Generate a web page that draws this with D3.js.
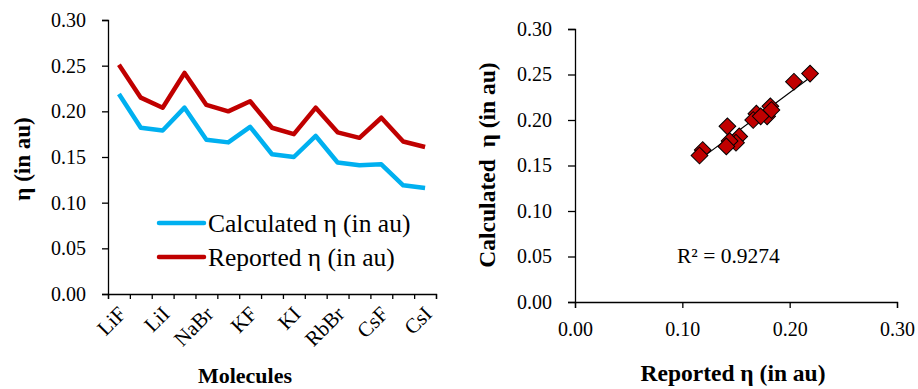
<!DOCTYPE html>
<html>
<head>
<meta charset="utf-8">
<script src="https://cdn.jsdelivr.net/npm/d3@7"></script>
<style>
  body { margin: 0; background: #fff; }
  svg text { font-family: "Liberation Serif", "DejaVu Serif", serif; fill: #000; }
</style>
</head>
<body>
<svg id="chart" width="918" height="389"></svg>
<script>
var molecules = ['LiF', 'LiBr', 'LiI', 'NaF', 'NaBr', 'NaI', 'KF', 'KBr', 'KI', 'RbF', 'RbBr', 'RbI', 'CsF', 'CsBr', 'CsI'];
var calculated = [0.219, 0.182, 0.179, 0.204, 0.169, 0.166, 0.183, 0.153, 0.150, 0.173, 0.144, 0.141, 0.142, 0.119, 0.116];
var reported = [0.251, 0.215, 0.204, 0.242, 0.207, 0.200, 0.211, 0.182, 0.175, 0.204, 0.177, 0.171, 0.193, 0.167, 0.161];
var yTicks = [0, 0.05, 0.10, 0.15, 0.20, 0.25, 0.30];
var xTicksScatter = [0, 0.10, 0.20, 0.30];

var blue = '#00B0F0', red = '#C00000';
var serif = '"Liberation Serif", "DejaVu Serif", serif';
var fmt = d3.format('.2f');
var svg = d3.select('#chart');

// ---------- left: line chart ----------
var L = {left: 108, right: 436, top: 20, bottom: 294};

var x = d3.scaleBand().domain(molecules).range([L.left, L.right]);
var xb = d3.scaleLinear().domain([0, molecules.length]).range([L.left, L.right]);
var y = d3.scaleLinear().domain([0, 0.30]).range([L.bottom, L.top]);

svg.append('g')
    .attr('transform', 'translate(' + L.left + ',0)')
    .call(d3.axisLeft(y).tickValues(yTicks).tickFormat(fmt).tickSizeOuter(0).tickSize(6).tickPadding(16));

svg.append('g')
    .attr('transform', 'translate(0,' + L.bottom + ')')
    .call(d3.axisBottom(xb).tickValues(d3.range(molecules.length + 1)).tickFormat('').tickSizeOuter(0).tickSize(5));

// every other category label
svg.append('g').selectAll('text')
    .data(molecules.filter(function (d, i) { return i % 2 === 0; }))
    .enter().append('text')
    .attr('transform', function (d) {
        return 'translate(' + (x(d) + x.bandwidth() / 2 + 3) + ',' + (L.bottom + 16) + ') rotate(-45)';
    })
    .attr('text-anchor', 'end')
    .attr('dy', '0.35em')
    .style('font-size', '21px')
    .text(function (d) { return d; });

var line = d3.line()
    .x(function (d, i) { return x(molecules[i]) + x.bandwidth() / 2; })
    .y(function (d) { return y(d); });

svg.append('path').datum(calculated)
    .attr('d', line).attr('fill', 'none').attr('stroke', blue)
    .attr('stroke-width', 4.5).attr('stroke-linejoin', 'round');
svg.append('path').datum(reported)
    .attr('d', line).attr('fill', 'none').attr('stroke', red)
    .attr('stroke-width', 4.5).attr('stroke-linejoin', 'round');

// legend
var legend = [['Calculated η (in au)', blue], ['Reported η (in au)', red]];
legend.forEach(function (d, i) {
    var ly = 223 + i * 34;
    svg.append('line').attr('x1', 159).attr('x2', 204).attr('y1', ly).attr('y2', ly)
        .attr('stroke', d[1]).attr('stroke-width', 4.5).attr('stroke-linecap', 'round');
    svg.append('text').attr('x', 208).attr('y', ly + 9).style('font-size', '25.5px').text(d[0]);
});

svg.append('text')
    .attr('transform', 'translate(30,' + ((L.top + L.bottom) / 2 + 2) + ') rotate(-90)')
    .attr('text-anchor', 'middle')
    .style('font-size', '23px').style('font-weight', 'bold')
    .text('η (in au)');

svg.append('text')
    .attr('x', 245).attr('y', 383)
    .attr('text-anchor', 'middle')
    .style('font-size', '22px').style('font-weight', 'bold')
    .text('Molecules');

// ---------- right: scatter ----------
var S = {left: 575, right: 897, top: 29, bottom: 302};
var sx = d3.scaleLinear().domain([0, 0.30]).range([S.left, S.right]);
var sy = d3.scaleLinear().domain([0, 0.30]).range([S.bottom, S.top]);

svg.append('g')
    .attr('transform', 'translate(' + S.left + ',0)')
    .call(d3.axisLeft(sy).tickValues(yTicks).tickFormat(fmt).tickSizeOuter(0).tickSize(7).tickPadding(16));
svg.append('g')
    .attr('transform', 'translate(0,' + S.bottom + ')')
    .call(d3.axisBottom(sx).tickValues(xTicksScatter).tickFormat(fmt).tickSizeOuter(0).tickSize(6).tickPadding(14));

svg.selectAll('.domain, .tick line').attr('stroke', '#000').attr('stroke-width', 1.3);
svg.selectAll('.tick text').attr('font-family', null).style('font-size', '20px').style('font-family', serif);

// linear trendline
var pts = calculated.map(function (d, i) { return [d, reported[i]]; });
var mx = d3.mean(pts, function (p) { return p[0]; }), my = d3.mean(pts, function (p) { return p[1]; });
var slope = d3.sum(pts, function (p) { return (p[0] - mx) * (p[1] - my); }) /
    d3.sum(pts, function (p) { return (p[0] - mx) * (p[0] - mx); });
var icpt = my - slope * mx;
var ext = d3.extent(pts, function (p) { return p[0]; });
svg.append('line')
    .attr('x1', sx(ext[0])).attr('y1', sy(icpt + slope * ext[0]))
    .attr('x2', sx(ext[1])).attr('y2', sy(icpt + slope * ext[1]))
    .attr('stroke', '#000').attr('stroke-width', 1.2);

svg.append('g').selectAll('path')
    .data(pts)
    .enter().append('path')
    .attr('d', d3.symbol().type(d3.symbolSquare).size(140))
    .attr('transform', function (p) { return 'translate(' + sx(p[0]) + ',' + sy(p[1]) + ') rotate(45)'; })
    .attr('fill', red).attr('stroke', '#000').attr('stroke-width', 1);

svg.append('text')
    .attr('x', 677).attr('y', 263)
    .style('font-size', '21.5px')
    .text('R² = 0.9274');

svg.append('text')
    .attr('transform', 'translate(495,' + 165 + ') rotate(-90)')
    .attr('text-anchor', 'middle')
    .style('font-size', '23.5px').style('font-weight', 'bold')
    .style('white-space', 'pre')
    .text('Calculated  η (in au)');

svg.append('text')
    .attr('x', 733).attr('y', 381)
    .attr('text-anchor', 'middle')
    .style('font-size', '23.5px').style('font-weight', 'bold')
    .text('Reported η (in au)');
</script>
</body>
</html>
